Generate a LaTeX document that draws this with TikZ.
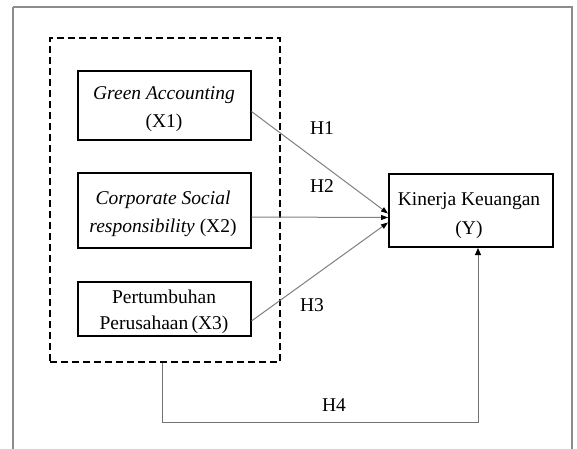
\documentclass[tikz,border=0pt]{standalone}
\usepackage{fontspec}
\setmainfont{Liberation Serif}
\usetikzlibrary{arrows.meta,calc}
\begin{document}
\begin{tikzpicture}[x=1pt,y=-1pt,
  vbox/.style={draw=black,line width=2pt,inner sep=0pt},
  txt/.style={align=center,inner sep=0pt,font=\fontsize{19.5}{28}\selectfont},
  conn/.style={draw=black!50,line width=1pt},
  tip/.style={-{Triangle[length=7pt,width=5pt,color=black]}},
  hlab/.style={font=\fontsize{19.5}{22}\selectfont,inner sep=0pt}]
\useasboundingbox (0,0) rectangle (577,448);
\fill[white] (0,0) rectangle (577,448);
\draw[draw=black!45,line width=1.2pt] (13,7) -- (572,7) -- (572,460) (13,7) -- (13,460);
\node[draw=black,line width=2pt,dash pattern=on 7pt off 4pt,minimum width=230pt,minimum height=324pt,inner sep=0pt] (grp) at (165,200) {};
\node[vbox,minimum width=173pt,minimum height=69pt] (x1) at (164,105.5) {};
\node[vbox,minimum width=173pt,minimum height=75pt] (x2) at (164,210.5) {};
\node[vbox,minimum width=173pt,minimum height=54pt] (x3) at (164,309) {};
\node[vbox,minimum width=164pt,minimum height=73pt] (y) at (471,210.5) {};
\node[txt] (x1t) at ($(x1.center)+(0,4)$) {\textit{Green Accounting}\\(X1)};
\node[txt] (x2t) at ($(x2.center)+(-1,3)$) {\textit{Corporate Social}\\\textit{responsibility} (X2)};
\node[txt,font=\fontsize{19.5}{26}\selectfont] (x3t) at ($(x3.center)+(0,3)$) {Pertumbuhan\\Perusahaan\,(X3)};
\node[txt,font=\fontsize{19.5}{29}\selectfont] (yt) at ($(y.center)+(-2,5)$) {Kinerja Keuangan\\(Y)};
\draw[conn,tip] ([yshift=-6pt]x1.east) -- ([yshift=-3pt]y.west);
\draw[conn,tip] ([yshift=-6.5pt]x2.east) -- ([yshift=-7pt]y.west);
\draw[conn,tip] ([yshift=-12pt]x3.east) -- ([yshift=-12pt]y.west);
\coordinate (b) at (162,422);
\draw[conn,-{Triangle[length=7pt,width=6pt,color=black]},draw=black!55] ([xshift=-3pt]grp.south) -- ([xshift=-3pt]grp.south |- b) -| ([xshift=7pt]y.south);
\node[hlab] (h1) at (322,128) {H1};
\node[hlab] (h2) at (322,186) {H2};
\node[hlab] (h3) at (312,305) {H3};
\node[hlab] (h4) at (334,405) {H4};
\end{tikzpicture}
\end{document}
